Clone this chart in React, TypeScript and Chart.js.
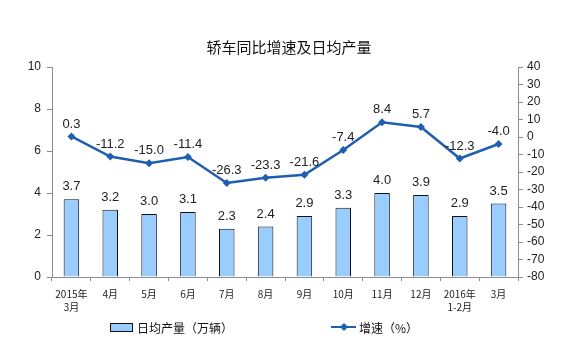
import React, { useEffect, useRef } from "react";
import { Chart, registerables } from "chart.js";

Chart.register(...registerables);

const categories: string[][] = [
  ["2015年", "3月"], ["4月"], ["5月"], ["6月"], ["7月"], ["8月"], ["9月"],
  ["10月"], ["11月"], ["12月"], ["2016年", "1-2月"], ["3月"],
];
const dailyOutput = [3.7, 3.2, 3.0, 3.1, 2.3, 2.4, 2.9, 3.3, 4.0, 3.9, 2.9, 3.5];
const growth = [0.3, -11.2, -15.0, -11.4, -26.3, -23.3, -21.6, -7.4, 8.4, 5.7, -12.3, -4.0];
const leftTicks = [0, 2, 4, 6, 8, 10];
const rightTicks = [40, 30, 20, 10, 0, -10, -20, -30, -40, -50, -60, -70, -80];

const title = "轿车同比增速及日均产量";
const barLabel = "日均产量（万辆）";
const lineLabel = "增速（%）";

const BAR_FILL = "#99CCFF";
const LINE_COLOR = "#1F5FB0";
const AXIS_COLOR = "#8c8c8c";
const FONT = "'Liberation Sans', Arial, sans-serif";
const CJK = "'Noto Sans CJK SC', sans-serif";

export default function App() {
  const ref = useRef<HTMLCanvasElement>(null);
  useEffect(() => {
    const canvas = ref.current!;
    const extras = {
      id: "extras",
      afterDatasetsDraw(chart: any) {
        const ctx = chart.ctx;
        ctx.save();
        const barMeta = chart.getDatasetMeta(0);
        ctx.fillStyle = "#222";
        ctx.font = `13px ${FONT}`;
        ctx.textAlign = "center";
        ctx.textBaseline = "bottom";
        barMeta.data.forEach((el: any, i: number) => {
          ctx.fillText(dailyOutput[i].toFixed(1), el.x, el.y - 6);
        });
        const lineMeta = chart.getDatasetMeta(1);
        lineMeta.data.forEach((el: any, i: number) => {
          ctx.fillText(growth[i].toFixed(1), el.x, el.y - 6);
        });
        ctx.restore();
      },
      afterDraw(chart: any) {
        const ctx = chart.ctx;
        ctx.save();
        ctx.fillStyle = "#111";
        ctx.font = `15px ${CJK}`;
        ctx.textAlign = "center";
        ctx.textBaseline = "middle";
        ctx.fillText(title, 289, 47);
        const ly = 327;
        ctx.fillStyle = BAR_FILL;
        ctx.fillRect(110, ly - 4, 23, 8);
        ctx.strokeStyle = "#111";
        ctx.lineWidth = 1;
        ctx.strokeRect(110.5, ly - 3.5, 22, 8);
        ctx.fillStyle = "#111";
        ctx.font = `12px ${CJK}`;
        ctx.textAlign = "left";
        ctx.fillText(barLabel, 137, ly + 1);
        ctx.strokeStyle = LINE_COLOR;
        ctx.lineWidth = 2;
        ctx.beginPath();
        ctx.moveTo(331, ly);
        ctx.lineTo(356, ly);
        ctx.stroke();
        ctx.fillStyle = LINE_COLOR;
        ctx.beginPath();
        ctx.moveTo(344, ly - 4);
        ctx.lineTo(348, ly);
        ctx.lineTo(344, ly + 4);
        ctx.lineTo(340, ly);
        ctx.closePath();
        ctx.fill();
        ctx.fillStyle = "#111";
        ctx.fillText(lineLabel, 359, ly + 1);
        ctx.restore();
      },
    };

    const chart = new Chart(canvas, {
      type: "bar",
      data: {
        labels: categories,
        datasets: [
          {
            type: "bar",
            label: barLabel,
            data: dailyOutput,
            backgroundColor: BAR_FILL,
            borderColor: "#111",
            borderWidth: 1,
            barPercentage: 0.4,
            categoryPercentage: 1,
            yAxisID: "y",
            order: 2,
          },
          {
            type: "line",
            label: lineLabel,
            data: growth,
            borderColor: LINE_COLOR,
            backgroundColor: LINE_COLOR,
            borderWidth: 2.5,
            pointStyle: "rectRot",
            pointRadius: 4,
            pointBorderWidth: 0,
            tension: 0,
            yAxisID: "y1",
            order: 1,
          },
        ] as any,
      },
      options: {
        animation: false,
        responsive: false,
        maintainAspectRatio: false,
        layout: { padding: { top: 67, left: 0, right: 0, bottom: 0 } },
        plugins: { legend: { display: false }, title: { display: false }, tooltip: { enabled: false } },
        scales: {
          x: {
            grid: { display: true, drawOnChartArea: false, offset: true, tickLength: 4, color: AXIS_COLOR },
            border: { display: true, color: AXIS_COLOR },
            ticks: {
              color: "#222",
              font: { family: CJK, size: 10, lineHeight: 1.35 },
              maxRotation: 0,
              autoSkip: false,
              padding: 6,
            },
            afterFit(scale: any) {
              scale.height = 80;
            },
          },
          y: {
            position: "left",
            min: 0,
            max: 10,
            afterBuildTicks(scale: any) {
              scale.ticks = leftTicks.map((v) => ({ value: v }));
            },
            grid: { display: true, drawOnChartArea: false, tickLength: 5, color: AXIS_COLOR },
            border: { display: true, color: AXIS_COLOR },
            ticks: { color: "#222", font: { family: FONT, size: 12 }, padding: 6 },
            afterFit(scale: any) {
              scale.width = 52;
            },
          },
          y1: {
            position: "right",
            min: -80,
            max: 40,
            afterBuildTicks(scale: any) {
              scale.ticks = rightTicks.map((v) => ({ value: v }));
            },
            grid: { display: true, drawOnChartArea: false, tickLength: 5, color: AXIS_COLOR },
            border: { display: true, color: AXIS_COLOR },
            ticks: { color: "#222", font: { family: FONT, size: 12 }, padding: 4 },
            afterFit(scale: any) {
              scale.width = 60;
            },
          },
        },
      } as any,
      plugins: [extras],
    });
    return () => chart.destroy();
  }, []);
  return (
    <div style={{ position: "fixed", left: 0, top: 0, width: 578, height: 357, background: "#fff" }}>
      <canvas ref={ref} width={578} height={357} style={{ width: 578, height: 357, display: "block" }} />
    </div>
  );
}
